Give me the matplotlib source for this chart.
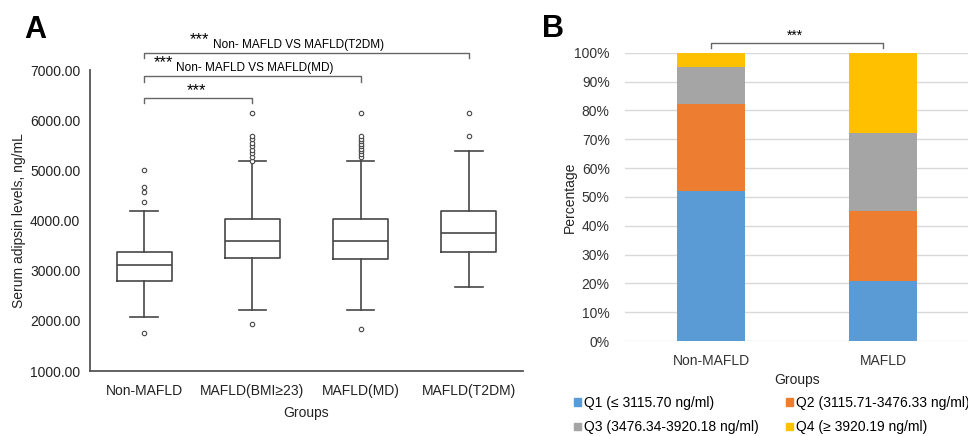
import matplotlib
matplotlib.use("Agg")
import matplotlib.pyplot as plt
from matplotlib.patches import Patch
from matplotlib.ticker import FuncFormatter

plt.rcParams['font.family'] = ['Liberation Sans', 'DejaVu Sans']

# panel A: box plot summary
groups_a = ['Non-MAFLD', 'MAFLD(BMI≥23)', 'MAFLD(MD)', 'MAFLD(T2DM)']
whislo = [2071, 2217, 2217, 2681]
q1 = [2795, 3247, 3233, 3379]
med = [3107, 3592, 3592, 3757]
q3 = [3367, 4024, 4024, 4190]
whishi = [4184, 5186, 5186, 5386]
fliers = [
    [1752, 4376, 4568, 4662, 5000],
    [1944, 5190, 5270, 5340, 5410, 5480, 5550, 5620, 5685, 6150],
    [1832, 5260, 5320, 5380, 5430, 5480, 5530, 5580, 5630, 5685, 6150],
    [5685, 6150],
]

# panel B: stacked percentages
groups_b = ['Non-MAFLD', 'MAFLD']
quart_labels = ['Q1 (≤ 3115.70 ng/ml)', 'Q2 (3115.71-3476.33 ng/ml)',
                'Q3 (3476.34-3920.18 ng/ml)', 'Q4 (≥ 3920.19 ng/ml)']
q1_pct = [52.0, 20.8]
q2_pct = [30.3, 24.3]
q3_pct = [12.6, 26.9]
q4_pct = [5.1, 28.0]
quart_colors = ['#5B9BD5', '#ED7D31', '#A5A5A5', '#FFC000']

W, H = 968, 436
fig = plt.figure(figsize=(W / 100, H / 100), dpi=100)

# ---------------- panel A
axA = fig.add_axes([90 / W, (H - 371) / H, (523 - 90) / W, (371 - 70) / H])
stats = []
for i, g in enumerate(groups_a):
    stats.append(dict(label=g, whislo=whislo[i], q1=q1[i], med=med[i],
                      q3=q3[i], whishi=whishi[i], fliers=fliers[i]))
lc = '#474747'
axA.bxp(stats, positions=[1, 2, 3, 4], widths=0.51, showfliers=True,
        boxprops=dict(color=lc, linewidth=1.2),
        medianprops=dict(color=lc, linewidth=1.2),
        whiskerprops=dict(color=lc, linewidth=1.2),
        capprops=dict(color=lc, linewidth=1.2),
        flierprops=dict(marker='o', markersize=3.2, markerfacecolor='white',
                        markeredgecolor=lc, markeredgewidth=0.8))
axA.set_xlim(0.5, 4.5)
axA.set_ylim(1000, 7000)
axA.set_yticks(range(1000, 7001, 1000))
axA.yaxis.set_major_formatter(FuncFormatter(lambda v, p: f'{v:.2f}'))
axA.tick_params(axis='both', length=0, labelsize=10, colors='#222222')
axA.tick_params(axis='y', pad=7)
axA.tick_params(axis='x', pad=9)
for s in ['top', 'right']:
    axA.spines[s].set_visible(False)
for s in ['left', 'bottom']:
    axA.spines[s].set_color('#555555')
    axA.spines[s].set_linewidth(1.3)
axA.set_xlabel('Groups', fontsize=10, color='#222222', labelpad=6)
axA.set_ylabel('Serum adipsin levels, ng/mL', fontsize=10, color='#222222', labelpad=3)

# significance brackets
bc = '#666666'
for x2, y in [(2, 6448), (3, 6880), (4, 7345)]:
    axA.plot([1, 1, x2, x2], [y - 110, y, y, y - 110], color=bc, lw=1.0, clip_on=False)
axA.text(1.48, 6595, '***', fontsize=12, ha='center', va='center')
axA.text(1.09, 7145, '***', fontsize=12, ha='left', va='center')
axA.text(1.295, 6980, 'Non- MAFLD VS MAFLD(MD)', fontsize=8.5, ha='left', va='baseline')
axA.text(1.42, 7604, '***', fontsize=12, ha='left', va='center')
axA.text(1.637, 7448, 'Non- MAFLD VS MAFLD(T2DM)', fontsize=8.5, ha='left', va='baseline')

fig.text(24 / W, 1 - 38 / H, 'A', fontsize=22, fontweight='bold', ha='left', va='baseline')

# ---------------- panel B
axB = fig.add_axes([625 / W, (H - 341) / H, (969 - 625) / W, (341 - 52.7) / H])
xb = range(len(groups_b))
bottom = [0, 0]
for vals, lab, col in zip([q1_pct, q2_pct, q3_pct, q4_pct], quart_labels, quart_colors):
    axB.bar(xb, vals, width=0.4, bottom=bottom, color=col, label=lab, zorder=2)
    bottom = [b + v for b, v in zip(bottom, vals)]
axB.set_xlim(-0.5, 1.5)
axB.set_ylim(0, 100)
axB.set_yticks(range(0, 101, 10))
axB.yaxis.set_major_formatter(FuncFormatter(lambda v, p: f'{v:.0f}%'))
axB.set_xticks(list(xb))
axB.set_xticklabels(groups_b)
axB.grid(axis='y', color='#D9D9D9', linewidth=1.0, zorder=0)
axB.set_axisbelow(True)
for s in axB.spines.values():
    s.set_visible(False)
axB.tick_params(axis='both', length=0, labelsize=10, colors='#333333')
axB.tick_params(axis='y', pad=11)
axB.tick_params(axis='x', pad=9)
axB.set_xlabel('Groups', fontsize=10, color='#222222', labelpad=4)
axB.set_ylabel('Percentage', fontsize=10, color='#222222', labelpad=-2)

axB.plot([0, 0, 1, 1], [101.6, 103.5, 103.5, 101.6], color=bc, lw=1.0, clip_on=False)
axB.text(0.49, 105.8, '***', fontsize=10, ha='center', va='center')

fig.text(542 / W, 1 - 37 / H, 'B', fontsize=22, fontweight='bold', ha='left', va='baseline')

# legend: the Q2 entry runs past the right edge, as in the source figure
handles = [Patch(color=c) for c in quart_colors]
order = [0, 2, 1, 3]
fig.legend([handles[i] for i in order], [quart_labels[i] for i in order],
           ncol=2, frameon=False, loc='upper left',
           bbox_to_anchor=(574 / W, 1 - 396 / H), fontsize=10,
           handlelength=0.5, handleheight=0.5, handletextpad=0.25,
           columnspacing=1.9, labelspacing=0.75, borderaxespad=0, borderpad=0)

fig.savefig('out.png', dpi=100)
